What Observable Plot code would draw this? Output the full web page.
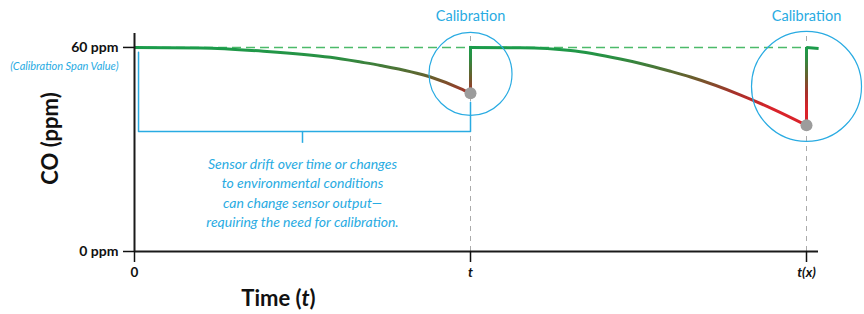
<!DOCTYPE html>
<html>
<head>
<meta charset="utf-8">
<script src="https://cdn.jsdelivr.net/npm/d3@7"></script>
<script src="https://cdn.jsdelivr.net/npm/@observablehq/plot@0.6"></script>
<style>
  html, body { margin: 0; padding: 0; background: #fff; }
  svg { display: block; }
</style>
</head>
<body>
<div id="chart"></div>
<script>
// ---- data (time in calibration intervals, CO in ppm) ----
const cycle1Time = [0, 0.196, 0.384, 0.583, 0.673, 0.732, 0.881, 0.97, 1.0];
const cycle1Ppm  = [60, 59.85, 58.9, 57.1, 55.7, 54.7, 51.3, 47.9, 46.5];
const cycle2Time = [1.0, 1.149, 1.298, 1.446, 1.506, 1.595, 1.655, 1.804, 1.902, 2.0];
const cycle2Ppm  = [60, 59.9, 59.1, 56.6, 55.3, 53.0, 51.3, 46.0, 41.8, 37.1];
const cycle3Time = [2.0, 2.036];
const cycle3Ppm  = [60, 59.7];
const calibrationTimes = [1, 2];
const spanValue = 60;
const yTicks = [0, 60];
const yTickLabels = ["0 ppm", "60 ppm"];
const xTicks = [0, 1, 2];
const xTickLabels = ["0", "t", "t(x)"];
const bracketTime = [0.012, 0.012, 1.0, 1.0];
const bracketPpm  = [58.6, 35.3, 35.3, 43.9];
const noteLines = [
  "Sensor drift over time or changes",
  "to environmental conditions",
  "can change sensor output\u2014",
  "requiring the need for calibration."
];
const gradientPpm = [60, 57, 51, 46.5, 42];
const gradientColors = ["#1b9c4b", "#2a8f42", "#6b5c2c", "#a8302a", "#d9232a"];

const rows = (ts, ps) => ts.map((t, i) => ({t, ppm: ps[i]}));
const cycle1 = rows(cycle1Time, cycle1Ppm);
const cycle2 = rows(cycle2Time, cycle2Ppm);
const cycle3 = rows(cycle3Time, cycle3Ppm);
const before = [cycle1Ppm[cycle1Ppm.length - 1], cycle2Ppm[cycle2Ppm.length - 1]];
const calibrations = calibrationTimes.map((t, i) => ({t, before: before[i], after: spanValue}));
const bracket = rows(bracketTime, bracketPpm);

const BLUE = "#29abe2";
const GRAD = "url(#driftGradient)";

function driftGradient(index, scales) {
  const y = scales.y;
  const y0 = y(gradientPpm[0]), y1 = y(gradientPpm[gradientPpm.length - 1]);
  const defs = d3.create("svg:defs");
  const g = defs.append("linearGradient")
    .attr("id", "driftGradient")
    .attr("gradientUnits", "userSpaceOnUse")
    .attr("x1", 0).attr("x2", 0)
    .attr("y1", y0).attr("y2", y1);
  gradientPpm.forEach((p, i) => {
    g.append("stop")
      .attr("offset", (y(p) - y0) / (y1 - y0))
      .attr("stop-color", gradientColors[i]);
  });
  return defs.node();
}

function timeLabel(index, scales, values, dimensions) {
  const t = d3.create("svg:text")
    .attr("x", scales.x(0.43))
    .attr("y", dimensions.height - 8)
    .attr("text-anchor", "middle")
    .attr("font-size", 22)
    .attr("font-weight", "bold")
    .attr("fill", "#111");
  t.append("tspan").text("Time (");
  t.append("tspan").attr("font-style", "italic").text("t");
  t.append("tspan").text(")");
  return t.node();
}

const chart = Plot.plot({
  width: 864,
  height: 314,
  marginLeft: 134,
  marginRight: 46,
  marginTop: 33,
  marginBottom: 63,
  x: {domain: [0, 2.0357]},
  y: {domain: [0, 64.1]},
  style: {fontFamily: "Lato, 'Open Sans', sans-serif", background: "#fff", color: "#111", overflow: "visible"},
  marks: [
    driftGradient,
    // guide lines
    Plot.ruleX(calibrationTimes, {y1: 0, y2: 64.1, stroke: "#aaaaaa", strokeWidth: 1, strokeDasharray: "5,5"}),
    Plot.ruleY([spanValue], {x1: 0, x2: 2, stroke: "#4cba6a", strokeWidth: 1.6, strokeDasharray: "9,5"}),
    // bracket annotation
    Plot.line(bracket, {x: "t", y: "ppm", stroke: BLUE, strokeWidth: 1.5}),
    Plot.ruleX([0.5], {y1: 35.3, y2: 31.8, stroke: BLUE, strokeWidth: 1.5}),
    Plot.text([noteLines.join("\n")], {
      x: 0.5, y: 17.6, text: d => d, lineAnchor: "middle", lineHeight: 1.4,
      fontSize: 14, fontStyle: "italic", fill: BLUE
    }),
    // sensor output
    Plot.line(cycle1, {x: "t", y: "ppm", curve: "monotone-x", stroke: GRAD, strokeWidth: 3, strokeLinecap: "butt"}),
    Plot.line(cycle2, {x: "t", y: "ppm", curve: "monotone-x", stroke: GRAD, strokeWidth: 3, strokeLinecap: "butt"}),
    Plot.line(cycle3, {x: "t", y: "ppm", stroke: GRAD, strokeWidth: 3, strokeLinecap: "butt"}),
    Plot.ruleX(calibrations, {x: "t", y1: "before", y2: "after", stroke: GRAD, strokeWidth: 3}),
    Plot.line(calibrations.slice(0, 1).flatMap(d => [{t: d.t, ppm: d.after}, {t: d.t + 0.001, ppm: d.after}]),
      {x: "t", y: "ppm", stroke: GRAD, strokeWidth: 3, strokeLinecap: "square"}),
    // calibration windows
    Plot.dot(calibrations.slice(0, 1), {x: "t", y: d => (d.before + d.after) / 2, dy: 3.5, r: 41.5, stroke: BLUE, strokeWidth: 1.2, fill: "none"}),
    Plot.dot(calibrations.slice(1), {x: "t", y: d => (d.before + d.after) / 2, r: 55, stroke: BLUE, strokeWidth: 1.2, fill: "none"}),
    Plot.dot(calibrations, {x: "t", y: "before", r: 6, fill: "#9c9c9c"}),
    Plot.text(calibrationTimes, {x: d => d, frameAnchor: "top", lineAnchor: "middle", dy: -17, text: () => "Calibration", fontSize: 14.5, fill: BLUE}),
    // axes
    Plot.ruleX([0], {stroke: "#1a1a1a", strokeWidth: 2}),
    Plot.ruleY([0], {stroke: "#1a1a1a", strokeWidth: 2}),
    Plot.axisY(yTicks, {
      tickSize: 11, tickPadding: 5, strokeWidth: 1.5,
      tickFormat: d => yTickLabels[yTicks.indexOf(d)],
      fontSize: 14, fontWeight: "bold", label: null
    }),
    Plot.axisX(xTicks.slice(0, 1), {
      anchor: "bottom", tickSize: 11, tickPadding: 5, strokeWidth: 1.5,
      tickFormat: d => xTickLabels[xTicks.indexOf(d)],
      fontSize: 13.5, fontWeight: "bold", label: null
    }),
    Plot.axisX(xTicks.slice(1), {
      anchor: "bottom", tickSize: 11, tickPadding: 5, strokeWidth: 1.5,
      tickFormat: d => xTickLabels[xTicks.indexOf(d)],
      fontSize: 13.5, fontWeight: "bold", fontStyle: "italic", label: null
    }),
    Plot.text([spanValue], {
      x: 0, y: d => d, dx: -16, dy: 19, textAnchor: "end",
      text: () => "(Calibration Span Value)", fontSize: 11, fontStyle: "italic", fill: BLUE
    }),
    Plot.text(["CO (ppm)"], {
      frameAnchor: "left", textAnchor: "middle", dx: -84, dy: -4, rotate: -90, text: d => d,
      fontSize: 22, fontWeight: "bold", fill: "#111"
    }),
    timeLabel
  ]
});

document.getElementById("chart").appendChild(chart);
</script>
</body>
</html>
